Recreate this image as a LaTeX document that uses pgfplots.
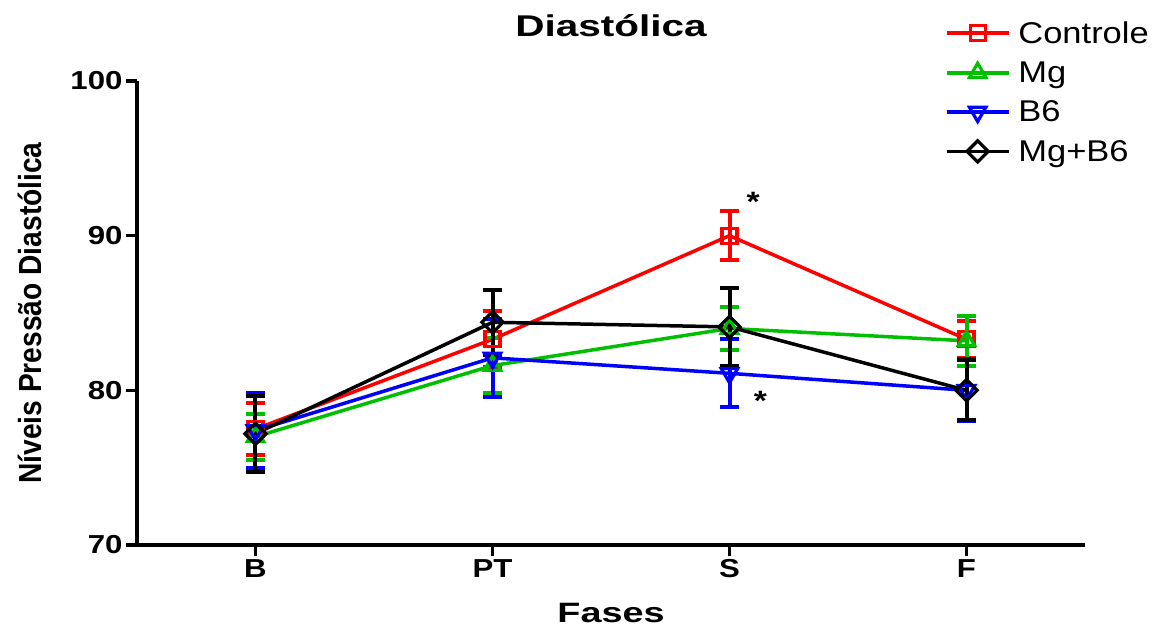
\documentclass[border=0pt]{standalone}
\usepackage{fontspec}
\setmainfont{Liberation Sans}[FakeStretch=1.2]
\newfontfamily\ylabfont{Liberation Sans}[FakeStretch=0.88]
\newfontfamily\titfont{Liberation Sans}[FakeStretch=1.35]
\newfontfamily\legfont{Liberation Sans}[FakeStretch=1.15]
\usepackage{pgfplots}
\pgfplotsset{compat=1.18}
\definecolor{cRed}{RGB}{255,0,0}
\definecolor{cGreen}{RGB}{0,190,0}
\definecolor{cBlue}{RGB}{0,0,255}

\begin{document}
\begin{tikzpicture}
\begin{axis}[
  scale only axis, width=948bp, height=464bp,
  xmin=-0.5, xmax=3.5, ymin=70, ymax=100,
  axis lines*=left,
  axis line style={line width=3.5bp},
  xtick={0,1,2,3}, xticklabels={B,PT,S,F},
  ytick={70,80,90,100},
  tick align=outside,
  major tick length=11bp,
  tick style={line width=3.5bp, black},
  /pgf/number format/assume math mode=true,
  tick label style={font=\bfseries\fontsize{26bp}{30bp}\selectfont},
  title={Diastólica},
  title style={font=\titfont\bfseries\fontsize{30bp}{34bp}\selectfont, at={(axis description cs:0.5,1.082)}, anchor=base},
  xlabel={Fases},
  xlabel style={font=\titfont\bfseries\fontsize{28bp}{32bp}\selectfont, at={(axis description cs:0.5,-0.168)}, anchor=base},
  ylabel={Níveis Pressão Diastólica},
  ylabel style={font=\ylabfont\bfseries\fontsize{32bp}{36bp}\selectfont, at={(axis description cs:-0.113,0.5)}, anchor=center},
  legend style={at={(axis description cs:0.852,1.133)}, anchor=north west, draw=none, fill=none,
    font=\legfont\fontsize{30bp}{34bp}\selectfont, row sep=13bp, inner sep=0pt},
  legend cell align=left,
  legend image code/.code={\draw[mark repeat=2, mark phase=2, #1] plot coordinates {(0bp,0bp) (31bp,0bp) (62bp,0bp)}; \path (68bp,0bp);},
  every axis plot/.append style={line width=3.5bp},
  error bars/y dir=both, error bars/y explicit,
]
\addplot[color=cRed, mark=square, mark size=7.5bp, mark options={line width=3.2bp, solid},
  error bars/error bar style={line width=4bp}, error bars/error mark options={rotate=90, mark size=9.5bp, line width=4bp, cRed}]
  coordinates {(0,77.5) +- (0,1.7) (1,83.3) +- (0,1.8) (2,90.0) +- (0,1.6) (3,83.3) +- (0,1.2)};
\addlegendentry{Controle}
\addplot[color=cGreen, mark=triangle, mark size=9.5bp, mark options={line width=3.2bp, solid},
  error bars/error bar style={line width=4bp}, error bars/error mark options={rotate=90, mark size=9.5bp, line width=4bp, cGreen}]
  coordinates {(0,77.0) +- (0,1.5) (1,81.6) +- (0,1.8) (2,84.0) +- (0,1.4) (3,83.2) +- (0,1.6)};
\addlegendentry{Mg}
\addplot[color=cBlue, mark=triangle, mark size=9.5bp, mark options={line width=3.2bp, solid, rotate=180},
  error bars/error bar style={line width=4bp}, error bars/error mark options={rotate=90, mark size=9.5bp, line width=4bp, cBlue}]
  coordinates {(0,77.4) +- (0,2.4) (1,82.1) +- (0,2.5) (2,81.1) +- (0,2.2) (3,80.0) +- (0,2.0)};
\addlegendentry{B6}
\addplot[color=black, mark=square, mark size=7.5bp, mark options={line width=3.2bp, solid, rotate=45},
  error bars/error bar style={line width=4bp}, error bars/error mark options={rotate=90, mark size=9.5bp, line width=4bp, black}]
  coordinates {(0,77.2) +- (0,2.45) (1,84.4) +- (0,2.1) (2,84.1) +- (0,2.5) (3,80.0) +- (0,1.95)};
\addlegendentry{Mg+B6}
\node[anchor=base, yshift=-16bp, font=\bfseries\fontsize{28bp}{30bp}\selectfont] at (axis cs:2.1,92.6) {*};
\node[anchor=base, yshift=-16bp, font=\bfseries\fontsize{28bp}{30bp}\selectfont] at (axis cs:2.13,79.7) {*};
\end{axis}
\pgfresetboundingbox
\path (-137bp,-83bp) rectangle (1024bp,545bp);
\end{tikzpicture}
\end{document}
